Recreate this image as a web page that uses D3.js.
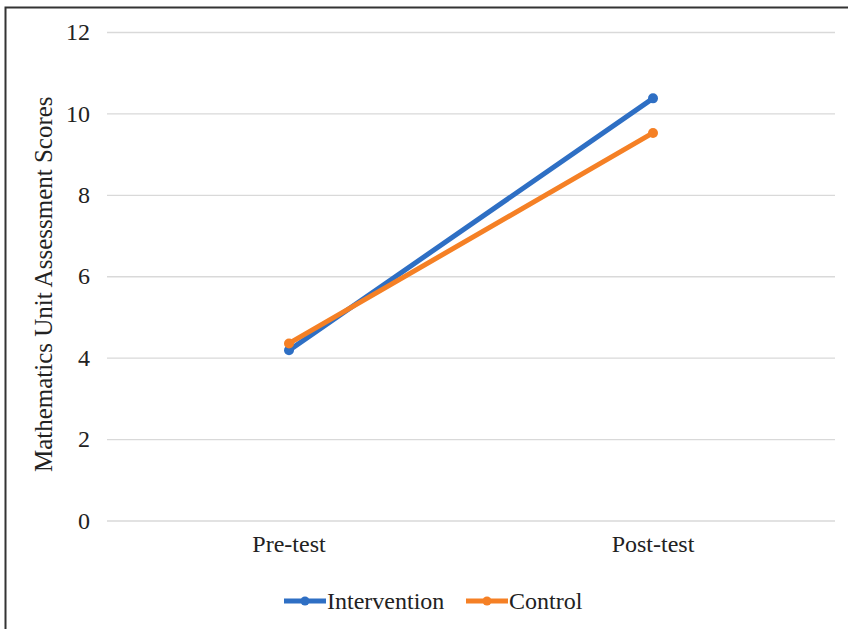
<!DOCTYPE html>
<html><head><meta charset="utf-8">
<script src="https://cdn.jsdelivr.net/npm/d3@7"></script>
<style>body{margin:0;background:#fff}svg{display:block}</style>
</head><body>
<script>
const categories = ["Pre-test", "Post-test"];
const seriesNames = ["Intervention", "Control"];
const intervention = [4.18, 10.37];
const control = [4.35, 9.52];
const yTicks = [0, 2, 4, 6, 8, 10, 12];
const colors = ["#2E6FC4", "#F58025"];

const W = 848, H = 629;
const svg = d3.select("body").append("svg").attr("width", W).attr("height", H);
svg.append("rect").attr("x", 5.5).attr("y", 7.5).attr("width", 900).attr("height", 700)
  .attr("fill", "#fff").attr("stroke", "#333").attr("stroke-width", 2);

const m = {left: 107, right: 835, top: 32, bottom: 520.5};
const x = d3.scaleBand().domain(categories).range([m.left, m.right]);
const y = d3.scaleLinear().domain([0, 12]).range([m.bottom, m.top]);
const font = "'Liberation Serif', 'Times New Roman', serif";
const fs = 24;

const yAxis = svg.append("g").attr("transform", `translate(${m.left},0)`)
  .call(d3.axisLeft(y).tickValues(yTicks).tickSize(-(m.right - m.left)).tickFormat(d3.format("d")));
yAxis.select(".domain").remove();
yAxis.selectAll(".tick line").attr("stroke", "#d9d9d9").attr("stroke-width", 1.3);
yAxis.selectAll(".tick text").attr("x", -17).attr("font-family", font).attr("font-size", fs).attr("fill", "#222");

const xAxis = svg.append("g").attr("transform", `translate(0,${m.bottom})`)
  .call(d3.axisBottom(x).tickSize(0));
xAxis.select(".domain").remove();
xAxis.selectAll(".tick text").attr("dy", "1.2em").attr("font-family", font).attr("font-size", fs).attr("fill", "#222");

svg.append("text").attr("transform", `translate(52,${(m.top + m.bottom) / 2 + 8}) rotate(-90)`)
  .attr("text-anchor", "middle").attr("font-family", font).attr("font-size", 25).attr("fill", "#222")
  .text("Mathematics Unit Assessment Scores");

const data = [intervention, control];
const line = d3.line().x((d, i) => x(categories[i]) + x.bandwidth() / 2).y(d => y(d));
data.forEach((vals, s) => {
  svg.append("path").datum(vals).attr("d", line).attr("fill", "none")
    .attr("stroke", colors[s]).attr("stroke-width", 5).attr("stroke-linecap", "round");
  svg.selectAll(null).data(vals).enter().append("circle")
    .attr("cx", (d, i) => x(categories[i]) + x.bandwidth() / 2).attr("cy", d => y(d))
    .attr("r", 5).attr("fill", colors[s]);
});

// legend
const leg = svg.append("g").attr("font-family", font).attr("font-size", fs).attr("fill", "#222");
const legX = [284, 466];
seriesNames.forEach((n, s) => {
  const g = leg.append("g").attr("transform", `translate(${legX[s]},601)`);
  g.append("line").attr("x1", 0).attr("x2", 42).attr("y1", 0).attr("y2", 0)
    .attr("stroke", colors[s]).attr("stroke-width", 5);
  g.append("circle").attr("cx", 21).attr("cy", 0).attr("r", 4.5).attr("fill", colors[s]);
  g.append("text").attr("x", 43).attr("y", 0).attr("dy", "0.33em").text(n);
});
</script>
</body></html>
